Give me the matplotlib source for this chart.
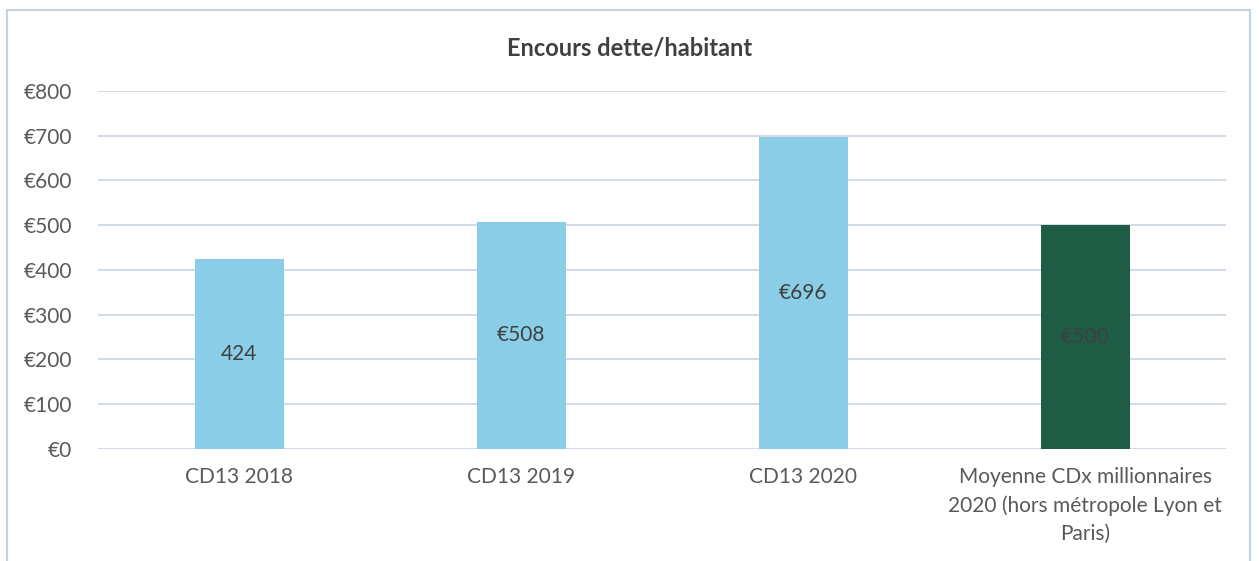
import matplotlib
matplotlib.use("Agg")
import matplotlib.pyplot as plt
from matplotlib.patches import Rectangle
from matplotlib.ticker import FuncFormatter

plt.rcParams["font.family"] = ["Lato", "DejaVu Sans"]

# Encours de la dette par habitant (euros)
categories = [
    "CD13 2018",
    "CD13 2019",
    "CD13 2020",
    "Moyenne CDx millionnaires\n2020 (hors métropole Lyon et\nParis)",
]
values = [424, 508, 696, 500]
value_labels = ["424", "€508", "€696", "€500"]
bar_colors = ["#8ACDE6", "#8ACDE6", "#8ACDE6", "#1E5C45"]
yticks = [0, 100, 200, 300, 400, 500, 600, 700, 800]

TEXT = "#595959"
GRID = "#CBD6E2"

fig = plt.figure(figsize=(12.59, 5.61), dpi=100)
ax = fig.add_axes([0.078, 0.2, 0.896, 0.638])

x = range(len(categories))
ax.bar(x, values, width=0.315, color=bar_colors, zorder=2)

# étiquettes de valeur au milieu de chaque barre
for xi, v, lab in zip(x, values, value_labels):
    ax.text(xi, v / 2, lab, ha="center", va="center", fontsize=15, color="#404040", zorder=3)

ax.set_xlim(-0.5, len(categories) - 0.5)
ax.set_ylim(0, 800)
ax.set_yticks(yticks)
ax.yaxis.set_major_formatter(FuncFormatter(lambda v, _: f"€{v:.0f}"))
ax.set_xticks(list(x))
ax.set_xticklabels(categories, linespacing=1.5)
ax.tick_params(axis="both", length=0, labelsize=15, labelcolor=TEXT)
ax.tick_params(axis="y", pad=19)
ax.tick_params(axis="x", pad=13)
ax.grid(axis="y", color=GRID, lw=1.2, zorder=0)
for s in ax.spines.values():
    s.set_visible(False)

fig.text(0.5, 0.915, "Encours dette/habitant", ha="center", va="center",
         fontsize=17, fontweight="bold", color="#404040")

# cadre du graphique
fig.add_artist(Rectangle((0.0056, -0.05), 0.987, 1.032, transform=fig.transFigure,
                         fill=False, edgecolor="#C5D3E0", lw=1.5))

fig.savefig("out.png", dpi=100)
